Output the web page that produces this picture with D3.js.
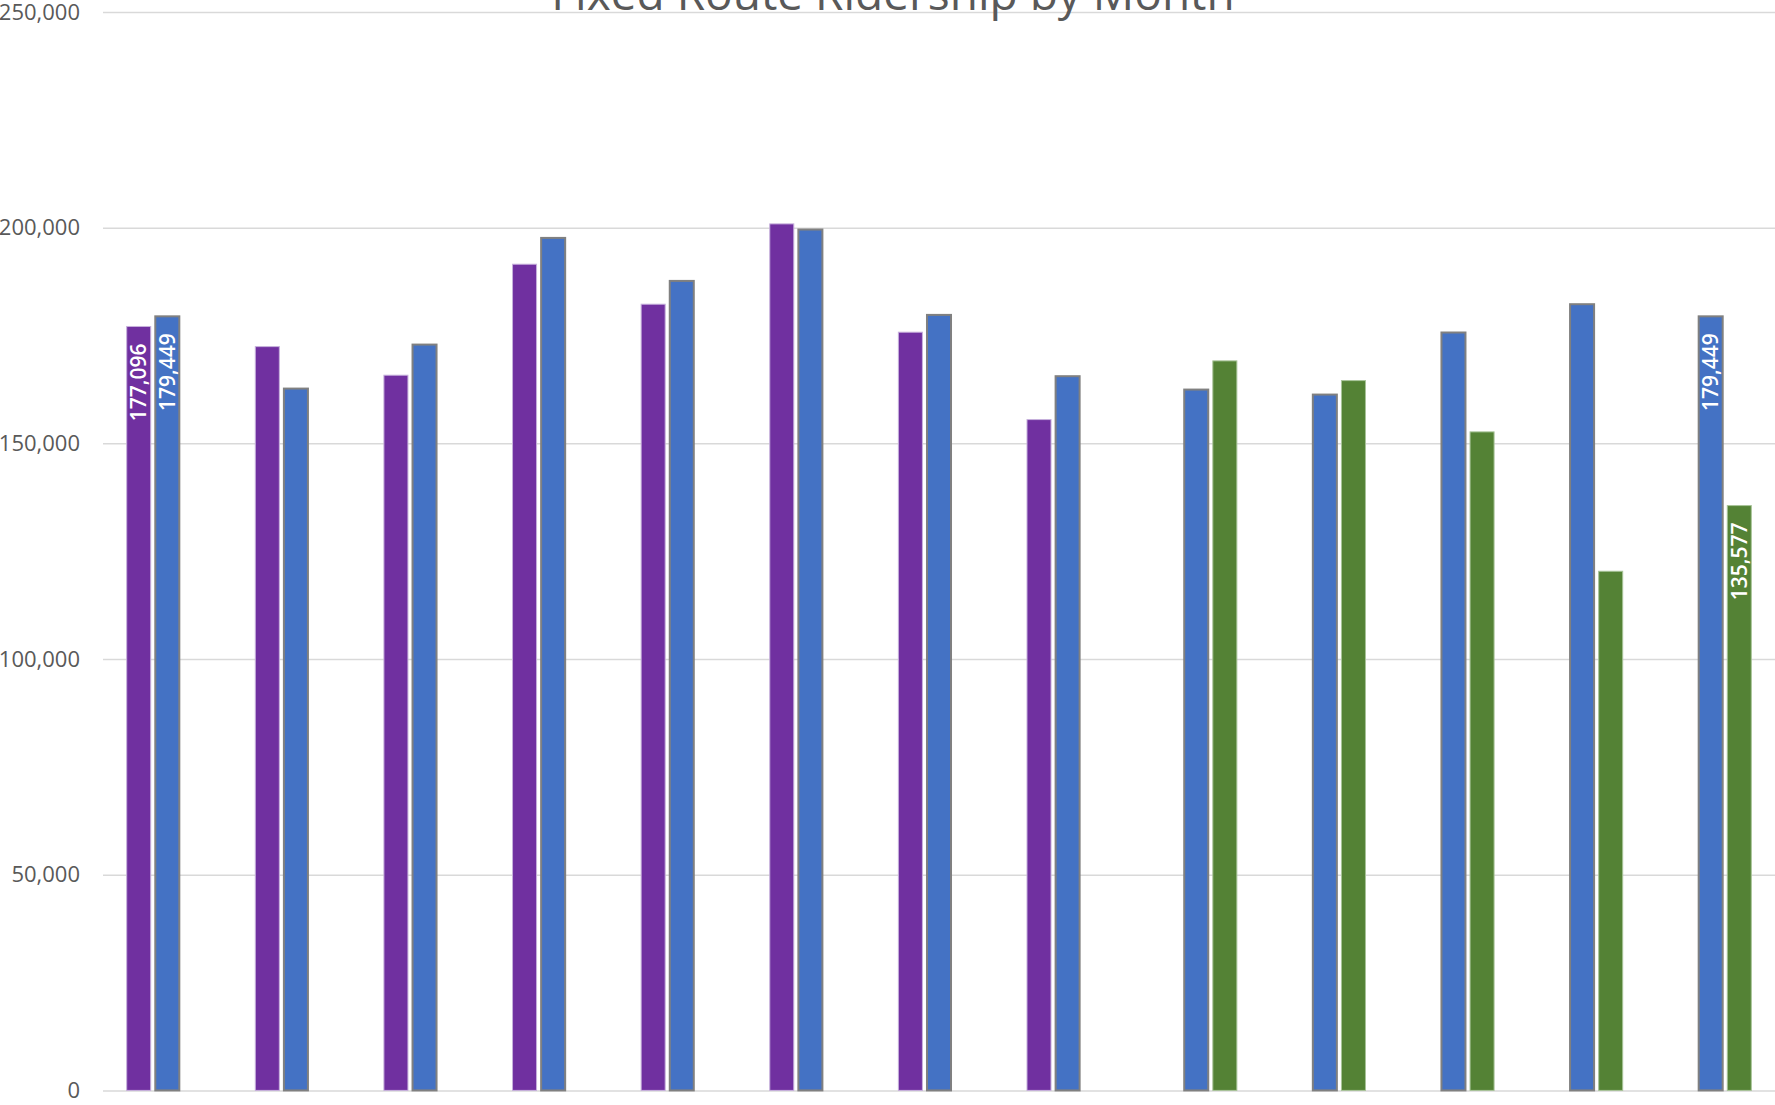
<!DOCTYPE html>
<html>
<head>
<meta charset="utf-8">
<script src="https://cdn.jsdelivr.net/npm/d3@7"></script>
<style>
  html, body { margin: 0; padding: 0; background: #ffffff; }
  svg { display: block; }
</style>
</head>
<body>
<svg id="chart" width="1775" height="1105"></svg>
<script>
// ---- data ----
const title = "Fixed Route Ridership by Month";
const categories = ["M1", "M2", "M3", "M4", "M5", "M6", "M7", "M8", "M9", "M10", "M11", "M12", "M13"];
const seriesNames = ["Prior", "Current", "Next"];
const purpleValues = [177096, 172430, 165800, 191530, 182260, 200880, 175770, 155510, null, null, null, null, null];
const blueValues   = [179449, 162700, 172900, 197630, 187660, 199570, 179780, 165570, 162470, 161310, 175700, 182260, 179449];
const greenValues  = [null, null, null, null, null, null, null, null, 169120, 164550, 152660, 120350, 135577];
const yTicks = [0, 50000, 100000, 150000, 200000, 250000];
// which bars carry a data label: [series index, category index]
const labelled = [[0, 0], [1, 0], [1, 12], [2, 12]];

// ---- layout ----
const W = 1775, H = 1105;
const plotLeft = 103, plotRight = 1775, plotTop = 12, plotBottom = 1090.4;
const colors = ["#7030A0", "#4472C4", "#548235"];
const strokes = ["#c7b1dc", "#808080", "#a8c498"];
const strokeW = [1, 2, 1];

const svg = d3.select("#chart");

const x = d3.scaleBand().domain(categories).range([plotLeft, plotRight]).paddingInner(0).paddingOuter(0);
const x1 = d3.scaleBand().domain(seriesNames).range([0, x.bandwidth()]).paddingInner(0.16).paddingOuter(0.828);
const y = d3.scaleLinear().domain([0, 250000]).range([plotBottom, plotTop]);

// gridlines + y labels
const yAxis = d3.axisLeft(y)
  .tickValues(yTicks)
  .tickSize(-(plotRight - plotLeft))
  .tickPadding(23)
  .tickFormat(d3.format(","));
const gy = svg.append("g").attr("transform", `translate(${plotLeft},0)`).call(yAxis);
gy.select(".domain").remove();
gy.selectAll(".tick line").attr("stroke", "#d9d9d9").attr("stroke-width", 1.5);
gy.selectAll(".tick text")
  .attr("fill", "#595959")
  .style("font-family", "'Open Sans', 'Noto Sans', sans-serif")
  .style("font-size", "22px");

// bars
const allSeries = [purpleValues, blueValues, greenValues];
const rows = [];
allSeries.forEach((vals, si) => {
  vals.forEach((v, ci) => {
    if (v !== null) rows.push({ si, ci, v });
  });
});

svg.append("g").selectAll("rect").data(rows).join("rect")
  .attr("x", d => x(categories[d.ci]) + x1(seriesNames[d.si]))
  .attr("width", x1.bandwidth())
  .attr("y", d => y(d.v))
  .attr("height", d => y(0) - y(d.v))
  .attr("fill", d => colors[d.si])
  .attr("stroke", d => strokes[d.si])
  .attr("stroke-width", d => strokeW[d.si]);

// data labels (rotated, inside end)
const labelRows = rows.filter(r => labelled.some(l => l[0] === r.si && l[1] === r.ci));
svg.append("g").selectAll("text").data(labelRows).join("text")
  .attr("transform", d => {
    const cx = x(categories[d.ci]) + x1(seriesNames[d.si]) + x1.bandwidth() / 2;
    return `translate(${cx},${y(d.v) + 17}) rotate(-90)`;
  })
  .attr("text-anchor", "end")
  .attr("dy", "0.36em")
  .attr("fill", "#ffffff")
  .style("font-family", "'Open Sans', 'Noto Sans', sans-serif")
  .style("font-size", "21px")
  .style("font-weight", "600")
  .text(d => d3.format(",")(d.v));

// title (cropped at the top in the reference)
svg.append("text")
  .attr("x", 893)
  .attr("y", 10)
  .attr("text-anchor", "middle")
  .attr("fill", "#595959")
  .style("font-family", "'Open Sans', 'Noto Sans', sans-serif")
  .style("font-size", "46px")
  .text(title);
</script>
</body>
</html>
